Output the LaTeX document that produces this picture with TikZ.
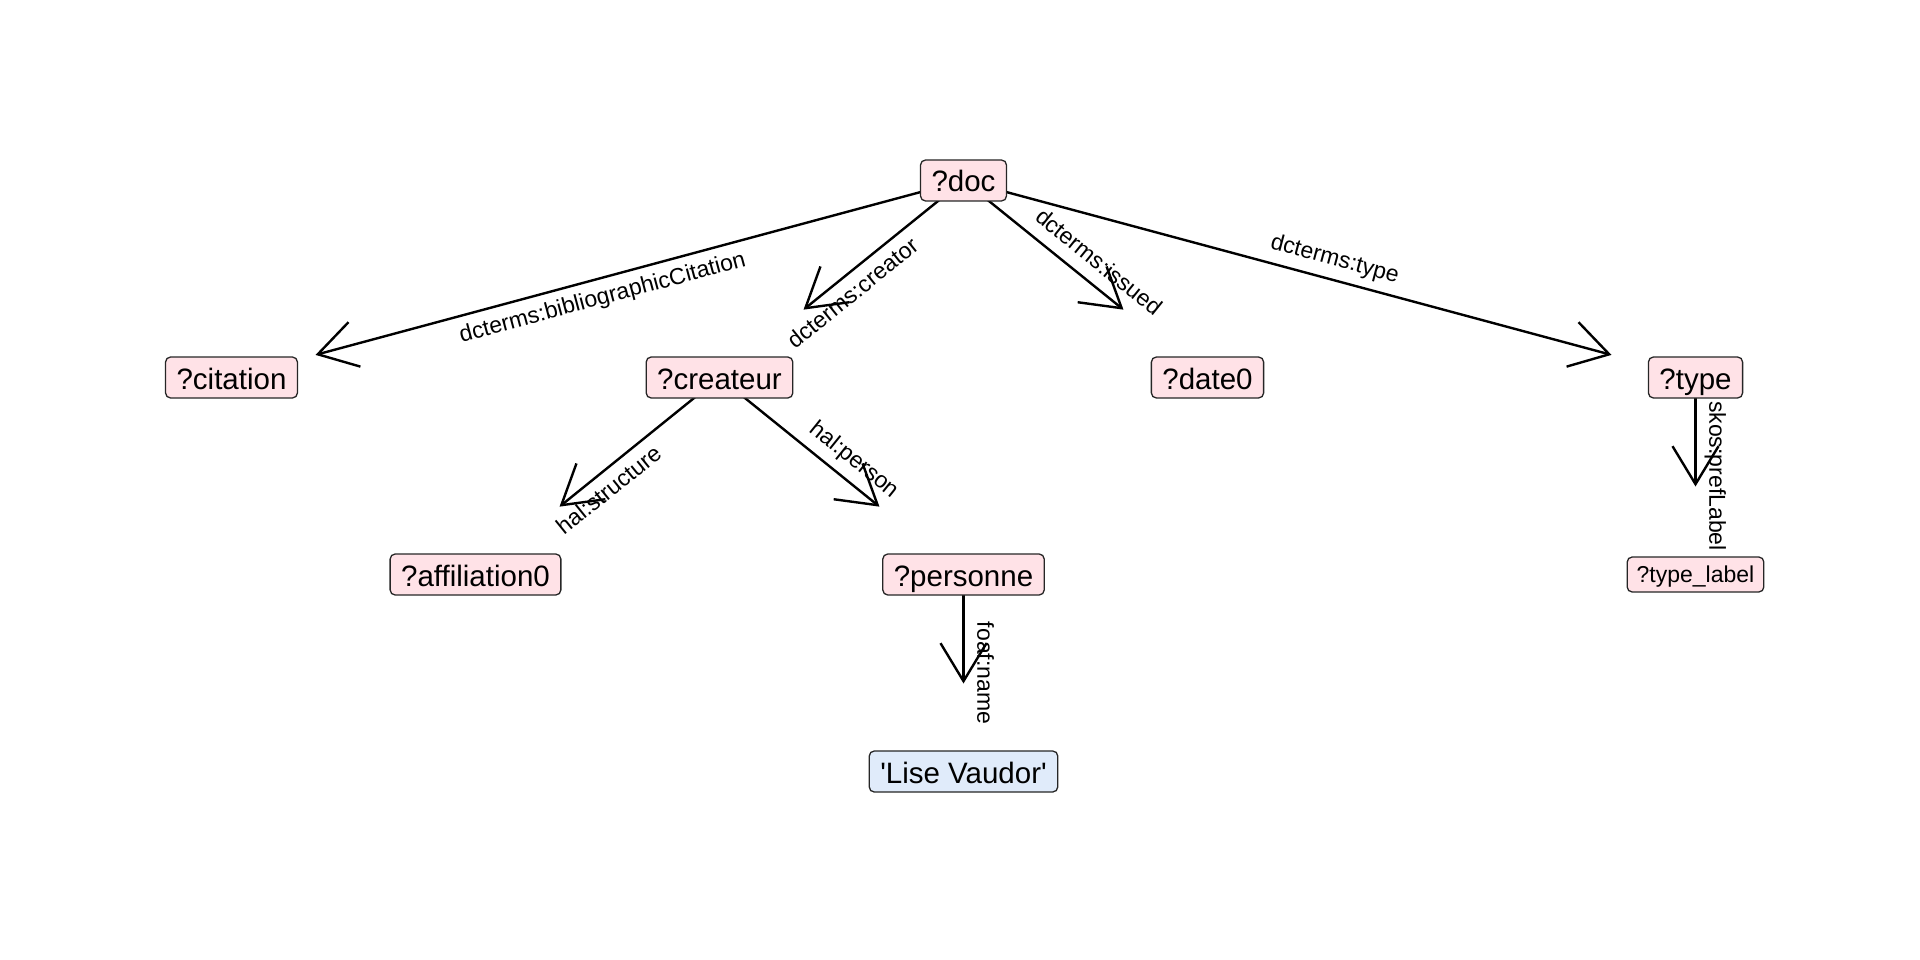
\documentclass[tikz,border=0pt]{standalone}
\usepackage{fontspec}
\setmainfont{Liberation Sans}
\usetikzlibrary{arrows.meta}
\pgfdeclarelayer{background}
\pgfsetlayers{background,main}
\definecolor{varpink}{RGB}{255,226,231}
\definecolor{litblue}{RGB}{224,235,250}

\begin{document}
\begin{tikzpicture}[x=1pt, y=-1pt,
						varnode/.style={rectangle, rounded corners=5pt, draw=black!85, line width=1.3pt, fill=varpink, font=\fontsize{29.5}{35}\selectfont, inner xsep=11pt, inner ysep=0pt, minimum height=41pt, text height=24pt, text depth=1pt},
						litnode/.style={varnode, fill=litblue},
						smallnode/.style={varnode, font=\fontsize{23}{27}\selectfont, minimum height=35pt, text height=17pt, text depth=1pt, inner xsep=9.5pt},
						edge/.style={line width=2.4pt, -{Straight Barb[length=38pt, width=46pt]}},
						lbl/.style={sloped, midway, font=\fontsize{23}{28}\selectfont, inner sep=0pt, text height=16.8pt, text depth=4.6pt},
						]
						\useasboundingbox (0,0) rectangle (1920,960);
						%Nodes
						\node[varnode]   (doc)       at (963.5,180.5)  {?doc};
						\node[varnode]   (citation)  at (231.5,377.5)  {?citation};
						\node[varnode]   (createur)  at (719.5,377.5)  {?createur};
						\node[varnode]   (date0)     at (1207.5,377.5) {?date0};
						\node[varnode]   (type)      at (1695.5,377.5) {?type};
						\node[varnode]   (affil)     at (475.5,574.5)  {?affiliation0};
						\node[varnode]   (personne)  at (963.5,574.5)  {?personne};
						\node[smallnode] (typelabel) at (1695.5,574.5) {?type\_label};
						\node[litnode]   (lise)      at (963.5,771.5)  {\textquotesingle Lise Vaudor\textquotesingle};

						\begin{pgfonlayer}{background}
						%Lines
						\draw[edge, shorten >=87pt] (doc.center) -- (citation.center) node[lbl, below=8pt] {dcterms:bibliographicCitation};
						\draw[edge, shorten >=108pt] (doc.center) -- (createur.center) node[lbl, below=8pt] {dcterms:creator};
						\draw[edge, shorten >=108pt] (doc.center) -- (date0.center) node[lbl, above=8pt] {dcterms:issued};
						\draw[edge, shorten >=87pt] (doc.center) -- (type.center) node[lbl, above=8pt] {dcterms:type};

						\draw[edge, shorten >=108pt] (createur.center) -- (affil.center) node[lbl, below=8pt] {hal:structure};
						\draw[edge, shorten >=108pt] (createur.center) -- (personne.center) node[lbl, above=8pt] {hal:person};

						\draw[edge, shorten >=88pt] (type.center) -- (typelabel.center) node[lbl, above=8pt] {skos:prefLabel};
						\draw[edge, shorten >=88pt] (personne.center) -- (lise.center) node[lbl, above=8pt] {foaf:name};
						\end{pgfonlayer}
					\end{tikzpicture}
\end{document}
